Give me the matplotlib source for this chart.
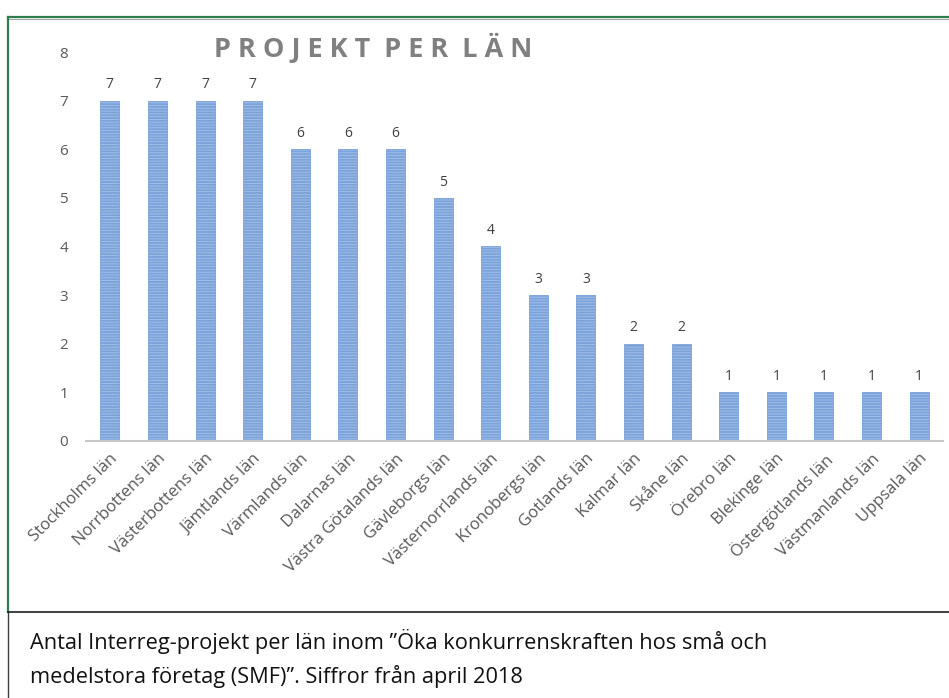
import matplotlib
matplotlib.use('Agg')
import matplotlib.pyplot as plt
from matplotlib.lines import Line2D

# data
lan = ['Stockholms län', 'Norrbottens län', 'Västerbottens län', 'Jämtlands län',
       'Värmlands län', 'Dalarnas län', 'Västra Götalands län', 'Gävleborgs län',
       'Västernorrlands län', 'Kronobergs län', 'Gotlands län', 'Kalmar län',
       'Skåne län', 'Örebro län', 'Blekinge län', 'Östergötlands län',
       'Västmanlands län', 'Uppsala län']
projekt = [7, 7, 7, 7, 6, 6, 6, 5, 4, 3, 3, 2, 2, 1, 1, 1, 1, 1]
yticks = [0, 1, 2, 3, 4, 5, 6, 7, 8]

W, H = 949, 698
fig = plt.figure(figsize=(W / 100, H / 100), dpi=100)
plt.rcParams['font.family'] = ['Open Sans', 'DejaVu Sans']
plt.rcParams['hatch.color'] = '#4676bd'
plt.rcParams['hatch.linewidth'] = 1.4

ax = fig.add_axes([86 / W, 1 - 441 / H, 857 / W, (441 - 52) / H])
x = list(range(len(lan)))
bars = ax.bar(x, projekt, width=0.4, color='#a7c2ea', edgecolor='#7ba3da',
              linewidth=0.6, hatch='------')
for xi, v in zip(x, projekt):
    ax.text(xi, v + 0.17, str(v), ha='center', va='bottom', fontsize=10, color='#404040')

ax.set_xlim(-0.5, len(lan) - 0.5)
ax.set_ylim(0, 8)
ax.set_yticks(yticks)
ax.set_yticklabels([str(t) for t in yticks], fontsize=11, color='#595959')
ax.set_xticks(x)
ax.set_xticklabels(lan, rotation=45, ha='right', rotation_mode='anchor',
                   fontsize=12, color='#595959')
ax.tick_params(axis='both', length=0)
ax.tick_params(axis='y', pad=13)
ax.tick_params(axis='x', pad=7)
for s in ['top', 'right', 'left']:
    ax.spines[s].set_visible(False)
ax.spines['bottom'].set_color('#c8c8c8')
ax.spines['bottom'].set_linewidth(1.5)

fig.text(373 / W, 1 - 48 / H, 'P R O J E K T  P E R  L Ä N', ha='center', va='center',
         fontsize=19.5, fontweight='bold', color='#808080')

# frame lines
def fy(p):
    return 1 - p / H

fig.add_artist(Line2D([8 / W, 1], [fy(17), fy(17)], color='#2e7d4f', lw=1.6))
fig.add_artist(Line2D([8 / W, 1], [fy(18.5), fy(18.5)], color='#a0a0a0', lw=0.8))
fig.add_artist(Line2D([8 / W, 8 / W], [fy(17), fy(612)], color='#2e7d4f', lw=1.6))
fig.add_artist(Line2D([8 / W, 8 / W], [fy(612), 0], color='#404040', lw=1.0))
fig.add_artist(Line2D([8 / W, 1], [fy(612), fy(612)], color='#202020', lw=1.2))

fig.text(30 / W, fy(642), 'Antal Interreg-projekt per län inom ”Öka konkurrenskraften hos små och',
         ha='left', va='center', fontsize=15.7, color='#111111')
fig.text(30 / W, fy(676), 'medelstora företag (SMF)”. Siffror från april 2018',
         ha='left', va='center', fontsize=15.7, color='#111111')

fig.savefig('out.png', dpi=100)
